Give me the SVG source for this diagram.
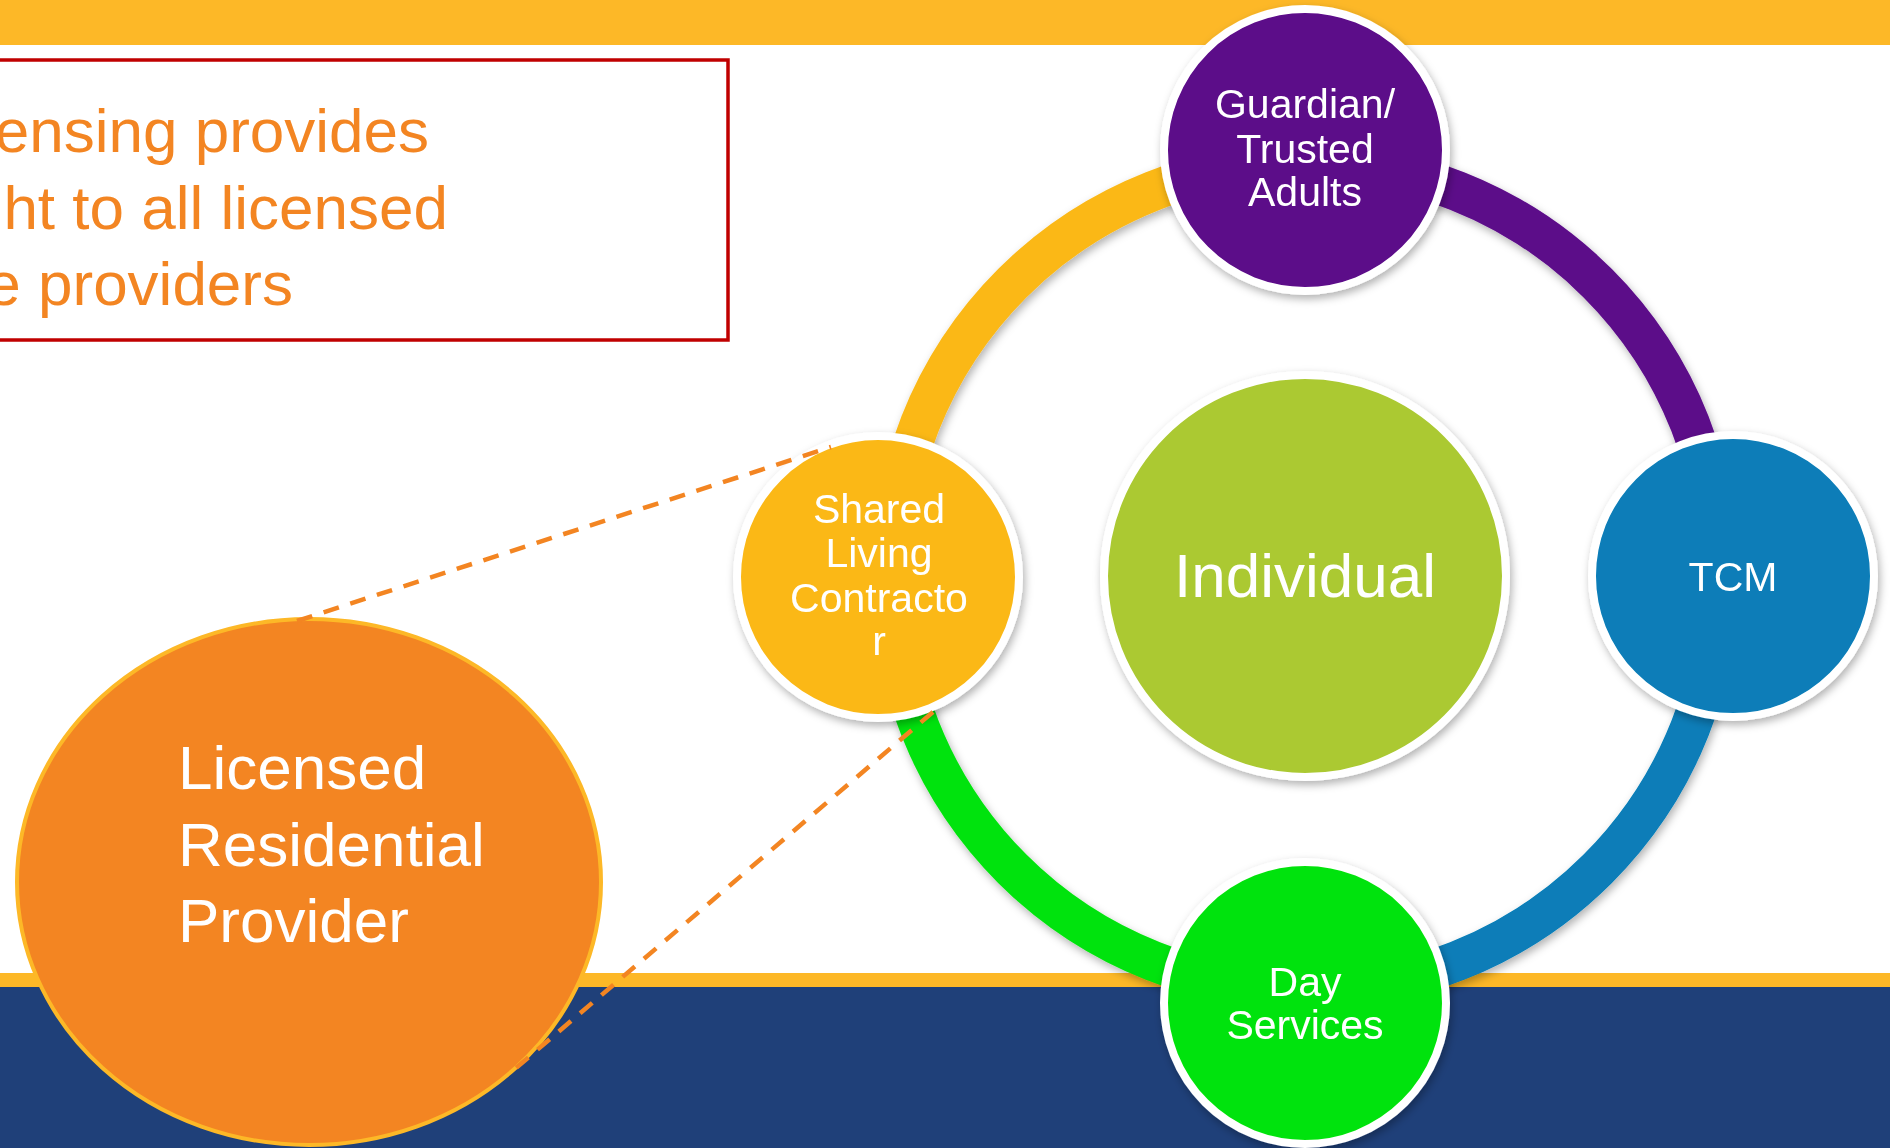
<svg xmlns="http://www.w3.org/2000/svg" width="1890" height="1148" viewBox="0 0 1890 1148">
<defs>
<style>
.t{font-family:"Liberation Sans",Arial,sans-serif;fill:#FFFFFF;text-anchor:middle}
.sat{font-size:41px}
.ring{fill:none;stroke-width:40}
.node{stroke:#FFFFFF;stroke-width:8}
.dash{fill:none;stroke:#F38522;stroke-width:4.5;stroke-dasharray:16 12}
.box{font-family:"Liberation Sans",Arial,sans-serif;font-size:62px;fill:#F38522;text-anchor:end}
</style>
<filter id="sh" x="-20%" y="-20%" width="140%" height="140%">
<feDropShadow dx="2" dy="4" stdDeviation="4" flood-color="#000000" flood-opacity="0.3"/>
</filter>
</defs>
<rect width="1890" height="1148" fill="#FFFFFF"/>
<g id="background">
<rect x="0" y="0" width="1890" height="45" fill="#FDB827"/>
<rect x="0" y="973" width="1890" height="14" fill="#FDB827"/>
<rect x="0" y="987" width="1890" height="161" fill="#1F4079"/>
</g>
<g id="note">
<rect x="-10" y="60" width="738" height="280" fill="#FFFFFF" stroke="#C00000" stroke-width="3.5"/>
<text class="box" x="429" y="152">ensing provides</text>
<text class="box" x="448" y="229">ht to all licensed</text>
<text class="box" x="293" y="305">e providers</text>
</g>
<g id="ring" filter="url(#sh)">
<path class="ring" stroke="#FBB817" d="M 891 576 A 414 414 0 0 1 1305 162"/>
<path class="ring" stroke="#5B0889" d="M 1305 162 A 414 414 0 0 1 1719 576"/>
<path class="ring" stroke="#077DB8" d="M 1719 576 A 414 414 0 0 1 1305 990"/>
<path class="ring" stroke="#05E30A" d="M 1305 990 A 414 414 0 0 1 891 576"/>
</g>
<g id="licensed-residential-provider">
<ellipse cx="309" cy="882" rx="292" ry="263" fill="#F38522" stroke="#FDB827" stroke-width="4"/>
<text class="t" style="text-anchor:start;font-size:62px" x="178"><tspan x="178" y="789">Licensed</tspan><tspan x="178" y="866">Residential</tspan><tspan x="178" y="942">Provider</tspan></text>
</g>
<g id="individual" filter="url(#sh)">
<circle cx="1305" cy="576" r="201" fill="#ABC932" class="node"/>
<text class="t" style="font-size:62px" x="1305" y="597">Individual</text>
</g>
<g id="guardian" filter="url(#sh)">
<circle cx="1305" cy="150" r="141" fill="#5B0889" class="node"/>
<text class="t sat"><tspan x="1305" y="118">Guardian/</tspan><tspan x="1305" y="163">Trusted</tspan><tspan x="1305" y="206">Adults</tspan></text>
</g>
<g id="tcm" filter="url(#sh)">
<circle cx="1733" cy="576" r="141" fill="#077DB8" class="node"/>
<text class="t sat" x="1733" y="591">TCM</text>
</g>
<g id="day-services" filter="url(#sh)">
<circle cx="1305" cy="1003" r="141" fill="#05E30A" class="node"/>
<text class="t sat"><tspan x="1305" y="996">Day</tspan><tspan x="1305" y="1039">Services</tspan></text>
</g>
<g id="shared-living" filter="url(#sh)">
<circle cx="878" cy="577" r="141" fill="#FBB817" class="node"/>
<text class="t sat"><tspan x="879" y="523">Shared</tspan><tspan x="879" y="567">Living</tspan><tspan x="879" y="612">Contracto</tspan><tspan x="879" y="655">r</tspan></text>
</g>
<g id="connectors">
<line class="dash" x1="297" y1="621" x2="831" y2="447"/>
<line class="dash" x1="933" y1="712" x2="516" y2="1068"/>
</g>
</svg>
